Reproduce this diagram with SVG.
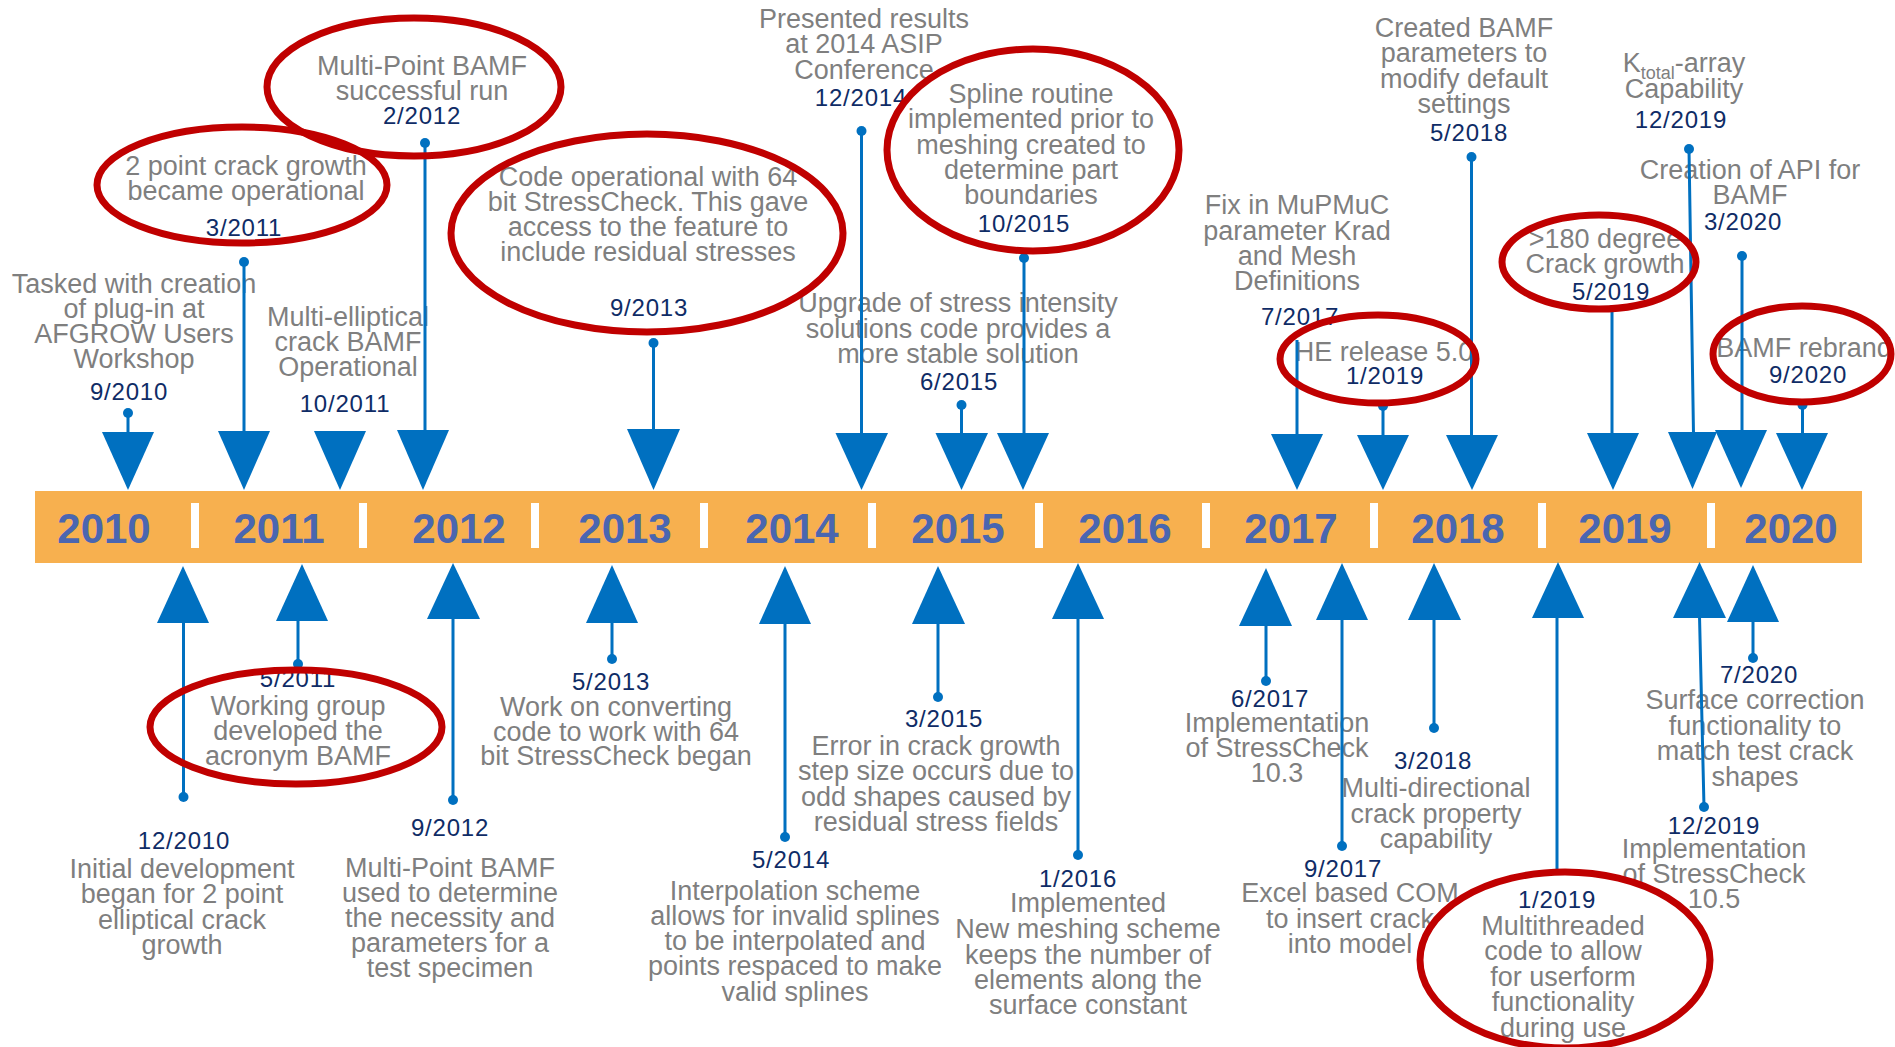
<svg xmlns="http://www.w3.org/2000/svg" width="1895" height="1047" viewBox="0 0 1895 1047">
<style>
text{font-family:'Liberation Sans',Arial,sans-serif;text-anchor:middle}
.d{font-size:27px;fill:#7F7F7F}
.dt{font-size:24px;fill:#0F2C66;letter-spacing:0.8px}
.yr{font-size:42px;font-weight:bold;fill:#4A66B0}
.ln{stroke:#0070C0;stroke-width:3;fill:none}
.dot,.tri{fill:#0070C0}
.ring{fill:none;stroke:#C00000;stroke-width:7}
.sep{fill:#FFFFFF}
</style>
<rect width="1895" height="1047" fill="#FFFFFF"/>
<g id="timeline">
<rect x="35" y="491" width="1827" height="72" fill="#F7B04F"/>
<rect class="sep" x="191" y="503" width="8" height="45"/>
<rect class="sep" x="359" y="503" width="8" height="45"/>
<rect class="sep" x="531" y="503" width="8" height="45"/>
<rect class="sep" x="700" y="503" width="8" height="45"/>
<rect class="sep" x="868" y="503" width="8" height="45"/>
<rect class="sep" x="1035" y="503" width="8" height="45"/>
<rect class="sep" x="1202" y="503" width="8" height="45"/>
<rect class="sep" x="1370" y="503" width="8" height="45"/>
<rect class="sep" x="1538" y="503" width="8" height="45"/>
<rect class="sep" x="1707" y="503" width="8" height="45"/>
<text class="yr" x="104" y="543">2010</text>
<text class="yr" x="279" y="543">2011</text>
<text class="yr" x="459" y="543">2012</text>
<text class="yr" x="625" y="543">2013</text>
<text class="yr" x="792" y="543">2014</text>
<text class="yr" x="958" y="543">2015</text>
<text class="yr" x="1125" y="543">2016</text>
<text class="yr" x="1291" y="543">2017</text>
<text class="yr" x="1458" y="543">2018</text>
<text class="yr" x="1625" y="543">2019</text>
<text class="yr" x="1791" y="543">2020</text>
</g>

<g id="n-2010-09">
<text class="d" x="134" y="293">Tasked with creation</text>
<text class="d" x="134" y="318">of plug-in at</text>
<text class="d" x="134" y="343">AFGROW Users</text>
<text class="d" x="134" y="368">Workshop</text>
<text class="dt" x="129" y="400">9/2010</text>
</g>
<g id="n-2011-03">
<text class="d" x="246" y="175">2 point crack growth</text>
<text class="d" x="246" y="200">became operational</text>
<text class="dt" x="244" y="236">3/2011</text>
</g>
<g id="n-2012-02">
<text class="d" x="422" y="75">Multi-Point BAMF</text>
<text class="d" x="422" y="100">successful run</text>
<text class="dt" x="422" y="124">2/2012</text>
</g>
<g id="n-2011-10">
<text class="d" x="348" y="326">Multi-elliptical</text>
<text class="d" x="348" y="351">crack BAMF</text>
<text class="d" x="348" y="376">Operational</text>
<text class="dt" x="345" y="412">10/2011</text>
</g>
<g id="n-2013-09">
<text class="d" x="648" y="186">Code operational with 64</text>
<text class="d" x="648" y="211">bit StressCheck. This gave</text>
<text class="d" x="648" y="236">access to the feature to</text>
<text class="d" x="648" y="261">include residual stresses</text>
<text class="dt" x="649" y="316">9/2013</text>
</g>
<g id="n-2014-12">
<text class="d" x="864" y="28">Presented results</text>
<text class="d" x="864" y="53">at 2014 ASIP</text>
<text class="d" x="864" y="79">Conference</text>
<text class="dt" x="861" y="106">12/2014</text>
</g>
<g id="n-2015-10">
<text class="d" x="1031" y="103">Spline routine</text>
<text class="d" x="1031" y="128">implemented prior to</text>
<text class="d" x="1031" y="154">meshing created to</text>
<text class="d" x="1031" y="179">determine part</text>
<text class="d" x="1031" y="204">boundaries</text>
<text class="dt" x="1024" y="232">10/2015</text>
</g>
<g id="n-2015-06">
<text class="d" x="958" y="312">Upgrade of stress intensity</text>
<text class="d" x="958" y="338">solutions code provides a</text>
<text class="d" x="958" y="363">more stable solution</text>
<text class="dt" x="959" y="390">6/2015</text>
</g>
<g id="n-2017-07">
<text class="d" x="1297" y="214">Fix in MuPMuC</text>
<text class="d" x="1297" y="240">parameter Krad</text>
<text class="d" x="1297" y="265">and Mesh</text>
<text class="d" x="1297" y="290">Definitions</text>
<text class="dt" x="1300" y="325">7/2017</text>
</g>
<g id="n-2019-01-top">
<text class="d" x="1384" y="361">HE release 5.0</text>
<text class="dt" x="1385" y="384">1/2019</text>
</g>
<g id="n-2018-05">
<text class="d" x="1464" y="37">Created BAMF</text>
<text class="d" x="1464" y="62">parameters to</text>
<text class="d" x="1464" y="88">modify default</text>
<text class="d" x="1464" y="113">settings</text>
<text class="dt" x="1469" y="141">5/2018</text>
</g>
<g id="n-2019-05">
<text class="d" x="1605" y="248">&gt;180 degree</text>
<text class="d" x="1605" y="273">Crack growth</text>
<text class="dt" x="1611" y="300">5/2019</text>
</g>
<g id="n-2019-12-top">
<text class="d" x="1684" y="72">K<tspan font-size="18" dy="7">total</tspan><tspan dy="-7">-array</tspan></text>
<text class="d" x="1684" y="98">Capability</text>
<text class="dt" x="1681" y="128">12/2019</text>
</g>
<g id="n-2020-03">
<text class="d" x="1750" y="179">Creation of API for</text>
<text class="d" x="1750" y="204">BAMF</text>
<text class="dt" x="1743" y="230">3/2020</text>
</g>
<g id="n-2020-09">
<text class="d" x="1804" y="357">BAMF rebrand</text>
<text class="dt" x="1808" y="383">9/2020</text>
</g>

<g id="n-2010-12">
<text class="dt" x="184" y="849">12/2010</text>
<text class="d" x="182" y="878">Initial development</text>
<text class="d" x="182" y="903">began for 2 point</text>
<text class="d" x="182" y="929">elliptical crack</text>
<text class="d" x="182" y="954">growth</text>
</g>
<g id="n-2011-05">
<text class="dt" x="298" y="687">5/2011</text>
<text class="d" x="298" y="715">Working group</text>
<text class="d" x="298" y="740">developed the</text>
<text class="d" x="298" y="765">acronym BAMF</text>
</g>
<g id="n-2012-09">
<text class="dt" x="450" y="836">9/2012</text>
<text class="d" x="450" y="877">Multi-Point BAMF</text>
<text class="d" x="450" y="902">used to determine</text>
<text class="d" x="450" y="927">the necessity and</text>
<text class="d" x="450" y="952">parameters for a</text>
<text class="d" x="450" y="977">test specimen</text>
</g>
<g id="n-2013-05">
<text class="dt" x="611" y="690">5/2013</text>
<text class="d" x="616" y="716">Work on converting</text>
<text class="d" x="616" y="741">code to work with 64</text>
<text class="d" x="616" y="765">bit StressCheck began</text>
</g>
<g id="n-2014-05">
<text class="dt" x="791" y="868">5/2014</text>
<text class="d" x="795" y="900">Interpolation scheme</text>
<text class="d" x="795" y="925">allows for invalid splines</text>
<text class="d" x="795" y="950">to be interpolated and</text>
<text class="d" x="795" y="975">points respaced to make</text>
<text class="d" x="795" y="1001">valid splines</text>
</g>
<g id="n-2015-03">
<text class="dt" x="944" y="727">3/2015</text>
<text class="d" x="936" y="755">Error in crack growth</text>
<text class="d" x="936" y="780">step size occurs due to</text>
<text class="d" x="936" y="806">odd shapes caused by</text>
<text class="d" x="936" y="831">residual stress fields</text>
</g>
<g id="n-2016-01">
<text class="dt" x="1078" y="887">1/2016</text>
<text class="d" x="1088" y="912">Implemented</text>
<text class="d" x="1088" y="938">New meshing scheme</text>
<text class="d" x="1088" y="964">keeps the number of</text>
<text class="d" x="1088" y="989">elements along the</text>
<text class="d" x="1088" y="1014">surface constant</text>
</g>
<g id="n-2017-06">
<text class="dt" x="1270" y="707">6/2017</text>
<text class="d" x="1277" y="732">Implementation</text>
<text class="d" x="1277" y="757">of StressCheck</text>
<text class="d" x="1277" y="782">10.3</text>
</g>
<g id="n-2017-09">
<text class="dt" x="1343" y="877">9/2017</text>
<text class="d" x="1350" y="902">Excel based COM</text>
<text class="d" x="1350" y="928">to insert crack</text>
<text class="d" x="1350" y="953">into model</text>
</g>
<g id="n-2018-03">
<text class="dt" x="1433" y="769">3/2018</text>
<text class="d" x="1436" y="797">Multi-directional</text>
<text class="d" x="1436" y="823">crack property</text>
<text class="d" x="1436" y="848">capability</text>
</g>
<g id="n-2019-01-bottom">
<text class="dt" x="1557" y="908">1/2019</text>
<text class="d" x="1563" y="935">Multithreaded</text>
<text class="d" x="1563" y="960">code to allow</text>
<text class="d" x="1563" y="986">for userform</text>
<text class="d" x="1563" y="1011">functionality</text>
<text class="d" x="1563" y="1037">during use</text>
</g>
<g id="n-2019-12-bottom">
<text class="dt" x="1714" y="834">12/2019</text>
<text class="d" x="1714" y="858">Implementation</text>
<text class="d" x="1714" y="883">of StressCheck</text>
<text class="d" x="1714" y="908">10.5</text>
</g>
<g id="n-2020-07">
<text class="dt" x="1759" y="683">7/2020</text>
<text class="d" x="1755" y="709">Surface correction</text>
<text class="d" x="1755" y="735">functionality to</text>
<text class="d" x="1755" y="760">match test crack</text>
<text class="d" x="1755" y="786">shapes</text>
</g>

<g id="connectors">
<path class="ln" d="M128 413V434M244 262V432M425 143V432M653.5 343V430M861.5 131V435M1024 258V435M961.5 405V435M1297 340V436M1383 406V437M1471.5 157V437M1612 305V435M1689 149L1693.5 434M1742 256V432M1802.5 405V435"/>
<circle class="dot" cx="128" cy="413" r="5"/>
<circle class="dot" cx="244" cy="262" r="5"/>
<circle class="dot" cx="425" cy="143" r="5"/>
<circle class="dot" cx="653.5" cy="343" r="5"/>
<circle class="dot" cx="861.5" cy="131" r="5"/>
<circle class="dot" cx="1024" cy="258" r="5"/>
<circle class="dot" cx="961.5" cy="405" r="5"/>
<circle class="dot" cx="1383" cy="406" r="5"/>
<circle class="dot" cx="1471.5" cy="157" r="5"/>
<circle class="dot" cx="1689" cy="149" r="5"/>
<circle class="dot" cx="1742" cy="256" r="5"/>
<circle class="dot" cx="1802.5" cy="405" r="5"/>
<polygon class="tri" points="102,432 154,432 128,490"/>
<polygon class="tri" points="218,431 270,431 244,490"/>
<polygon class="tri" points="314,431 366,431 340,490"/>
<polygon class="tri" points="397,430 449,430 423,490"/>
<polygon class="tri" points="627,429 680,429 653.5,490"/>
<polygon class="tri" points="835.5,433 888,433 861.5,490"/>
<polygon class="tri" points="935.5,433 988,433 961.5,490"/>
<polygon class="tri" points="997,433 1049,433 1023,490"/>
<polygon class="tri" points="1271,434 1323,434 1297,490"/>
<polygon class="tri" points="1357,435 1409,435 1383,490"/>
<polygon class="tri" points="1446,435 1498,435 1472,490"/>
<polygon class="tri" points="1587,433 1639,433 1613,490"/>
<polygon class="tri" points="1668,432 1717,432 1692.5,489"/>
<polygon class="tri" points="1715,430 1767,430 1741,488"/>
<polygon class="tri" points="1776,433 1828,433 1802,490"/>
<path class="ln" d="M183.5 620V797M298 620V664M453 618V800M612 621V659M785 622V837M938 622V697M1078 617V855M1266 624V681M1342 618V846M1434 618V728M1557 616V872M1699.5 616L1704 807M1753 620V658"/>
<circle class="dot" cx="183.5" cy="797" r="5"/>
<circle class="dot" cx="298" cy="664" r="5"/>
<circle class="dot" cx="453" cy="800" r="5"/>
<circle class="dot" cx="612" cy="659" r="5"/>
<circle class="dot" cx="785" cy="837" r="5"/>
<circle class="dot" cx="938" cy="697" r="5"/>
<circle class="dot" cx="1078" cy="855" r="5"/>
<circle class="dot" cx="1266" cy="681" r="5"/>
<circle class="dot" cx="1342" cy="846" r="5"/>
<circle class="dot" cx="1434" cy="728" r="5"/>
<circle class="dot" cx="1704" cy="807" r="5"/>
<circle class="dot" cx="1753" cy="658" r="5"/>
<polygon class="tri" points="157,623 209,623 183,566"/>
<polygon class="tri" points="276,621 328,621 302,564"/>
<polygon class="tri" points="427,619 480,619 453,563"/>
<polygon class="tri" points="586,623 638,623 612,565"/>
<polygon class="tri" points="759,624 811,624 785,566"/>
<polygon class="tri" points="912,624 965,624 938,566"/>
<polygon class="tri" points="1052,619 1104,619 1078,563"/>
<polygon class="tri" points="1239,626 1292,626 1266,568"/>
<polygon class="tri" points="1316,620 1368,620 1342,563"/>
<polygon class="tri" points="1408,620 1461,620 1434,563"/>
<polygon class="tri" points="1532,618 1584,618 1558,562"/>
<polygon class="tri" points="1673,618 1726,618 1699.5,562"/>
<polygon class="tri" points="1727,622 1779,622 1753,565"/>
</g>

<g id="highlights">
<ellipse class="ring" cx="242" cy="185" rx="145" ry="58"/>
<ellipse class="ring" cx="414" cy="87" rx="147" ry="69"/>
<ellipse class="ring" cx="647" cy="233" rx="196" ry="99"/>
<ellipse class="ring" cx="1033" cy="150" rx="146" ry="101"/>
<ellipse class="ring" cx="1378" cy="359" rx="98" ry="44"/>
<ellipse class="ring" cx="1599" cy="262" rx="97" ry="47"/>
<ellipse class="ring" cx="1802" cy="354" rx="89" ry="48"/>
<ellipse class="ring" cx="296" cy="727" rx="146" ry="57"/>
<ellipse class="ring" cx="1565" cy="960" rx="145" ry="88"/>
</g>
</svg>
